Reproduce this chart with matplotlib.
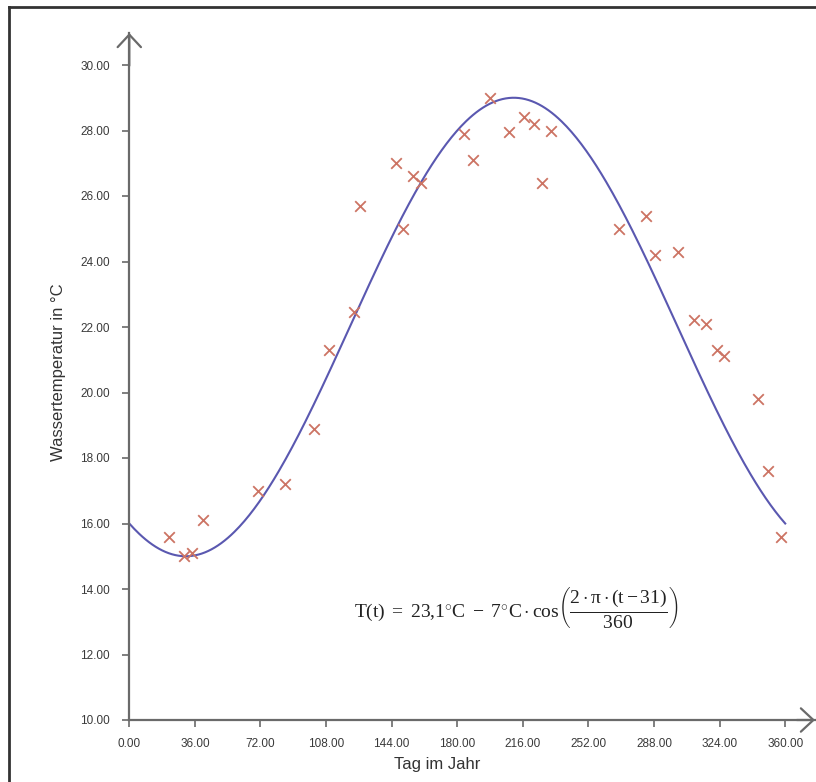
import numpy as np
import matplotlib
matplotlib.use("Agg")
import matplotlib.pyplot as plt
from matplotlib.lines import Line2D
from matplotlib.ticker import FormatStrFormatter

# ---- data ----
days = [21.8, 30.0, 34.4, 40.4, 70.6, 85.5, 101.4, 109.6, 123.3, 126.6,
        146.4, 150.3, 155.8, 160.2, 183.8, 188.7, 198.0, 208.4, 216.6, 222.1,
        226.5, 231.4, 268.7, 283.6, 288.5, 301.2, 310.0, 316.5, 322.6, 326.4,
        345.0, 350.5, 357.7]
temps = [15.6, 15.0, 15.1, 16.1, 17.0, 17.2, 18.9, 21.3, 22.45, 25.7,
         27.0, 25.0, 26.6, 26.4, 27.9, 27.1, 29.0, 27.95, 28.4, 28.2,
         26.4, 28.0, 25.0, 25.4, 24.2, 24.3, 22.2, 22.1, 21.3, 21.1,
         19.8, 17.6, 15.6]

# model curve parameters (as drawn)
model_offset = 22.0
model_amplitude = 7.0
model_phase = 31.0
model_period = 360.0

x_ticks = [0, 36, 72, 108, 144, 180, 216, 252, 288, 324, 360]
y_ticks = [10, 12, 14, 16, 18, 20, 22, 24, 26, 28, 30]

x_label = "Tag im Jahr"
y_label = "Wassertemperatur in °C"

# ---- figure ----
W, H = 816, 782
plt.rcParams["mathtext.fontset"] = "custom"
plt.rcParams["mathtext.rm"] = "Liberation Serif"
plt.rcParams["mathtext.it"] = "Liberation Serif:italic"
fig = plt.figure(figsize=(W / 100, H / 100), dpi=100)
fig.patch.set_facecolor("white")

left_px, right_px = 129.3, 815.0
bottom_px, top_px = 720.0, 33.0
ax = fig.add_axes([left_px / W, (H - bottom_px) / H,
                   (right_px - left_px) / W, (bottom_px - top_px) / H])
ax.set_xlim(0, (right_px - left_px) / 1.822)
ax.set_ylim(10, 10 + (bottom_px - top_px) / 32.75)

axis_color = "#6a6a6a"
for s in ["top", "right"]:
    ax.spines[s].set_visible(False)
for s in ["left", "bottom"]:
    ax.spines[s].set_color(axis_color)
    ax.spines[s].set_linewidth(1.6)

t = np.linspace(0, 360, 400)
curve = model_offset - model_amplitude * np.cos(2 * np.pi * (t - model_phase) / model_period)
ax.plot(t, curve, color="#5a58b0", lw=1.5, zorder=2)
ax.scatter(days, temps, marker="x", s=58, color="#cc7464", linewidths=1.3, zorder=3)

ax.set_xticks(x_ticks)
ax.set_yticks(y_ticks)
ax.xaxis.set_major_formatter(FormatStrFormatter("%.2f"))
ax.yaxis.set_major_formatter(FormatStrFormatter("%.2f"))
tick_font = "Liberation Sans"
ax.tick_params(axis="both", direction="out", length=5, width=1.2, color=axis_color,
               labelsize=8.5, labelcolor="#3a3a3a")
ax.tick_params(axis="y", pad=9)
ax.tick_params(axis="x", pad=8)
for lbl in ax.get_xticklabels() + ax.get_yticklabels():
    lbl.set_fontfamily(tick_font)

# arrow heads
ylim_top = ax.get_ylim()[1]
xlim_right = ax.get_xlim()[1]
ax.annotate("", xy=(0, ylim_top), xytext=(0, ylim_top - 1.0),
            arrowprops=dict(arrowstyle="->,head_length=0.45,head_width=0.42",
                            color=axis_color, lw=1.6, mutation_scale=20,
                            shrinkA=0, shrinkB=0),
            annotation_clip=False)
ax.annotate("", xy=(xlim_right, 10), xytext=(xlim_right - 10, 10),
            arrowprops=dict(arrowstyle="->,head_length=0.45,head_width=0.42",
                            color=axis_color, lw=1.6, mutation_scale=20,
                            shrinkA=0, shrinkB=0),
            annotation_clip=False)

# axis labels
fig.text(437 / W, 1 - 765 / H, x_label, ha="center", va="center",
         fontsize=12, family="Liberation Sans", color="#333333")
fig.text(58 / W, 1 - 372 / H, y_label, ha="center", va="center", rotation=90,
         fontsize=12, family="Liberation Sans", color="#333333")

# formula
formula = (r"$\mathrm{T(t)\ =\ 23{,}1{}^{\circ}C\ -\ 7{}^{\circ}C\cdot cos}"
           r"\left(\dfrac{\mathrm{2\cdot\pi\cdot(t-31)}}{\mathrm{360}}\right)$")
fig.text(354 / W, 1 - 607 / H, formula, ha="left", va="center",
         fontsize=14, color="#222222")

# outer border (top and left visible)
fig.add_artist(Line2D([9 / W, 1.0], [1 - 7 / H, 1 - 7 / H], transform=fig.transFigure,
                      color="#333333", lw=2))
fig.add_artist(Line2D([9 / W, 9 / W], [1 - 7 / H, 0], transform=fig.transFigure,
                      color="#333333", lw=2))

fig.savefig("out.png", dpi=100)
